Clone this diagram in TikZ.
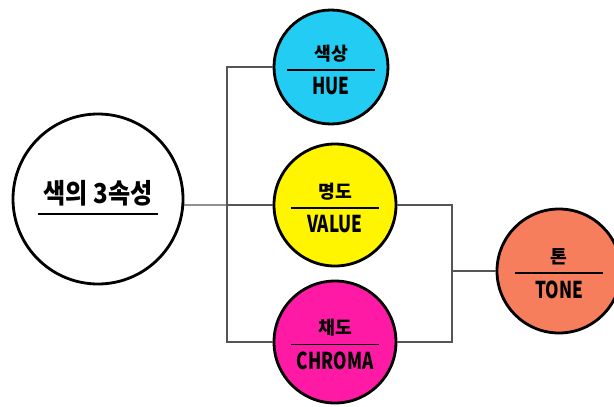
\documentclass[tikz,border=0pt]{standalone}
\usepackage{fontspec}
\setmainfont{Noto Sans CJK KR}

\definecolor{huecol}{HTML}{22CCF2}
\definecolor{valuecol}{HTML}{FFF500}
\definecolor{chromacol}{HTML}{FF1AA6}
\definecolor{tonecol}{HTML}{F77E5C}
\definecolor{wirecol}{HTML}{555555}

\newcommand{\attrlabel}[2]{%
  \begin{tabular}{@{}c@{}}
    \\[-1pt]
    {\fontsize{26}{28}\selectfont\bfseries #1}\\[3pt]
    \rule{126pt}{2.6pt}\\[6pt]
    \scalebox{0.74}[1]{\fontsize{33}{36}\selectfont\bfseries #2}
  \end{tabular}}

\begin{document}
\begin{tikzpicture}[x=0.5mm,y=-0.5mm,
  ball/.style={circle,draw=black,line width=4pt,inner sep=0pt,align=center},
  wire/.style={draw=wirecol,line width=1.6pt}]
	\clip (0,0) rectangle (614,406);

	\node[ball,fill=white,minimum size=85mm] (props) at (98,199)
	  {\begin{tabular}{@{}c@{}}\scalebox{0.88}[1]{\fontsize{39}{44}\selectfont\bfseries 색의 3속성}\\[5pt]\rule{170pt}{3.5pt}\end{tabular}};
	\node[ball,fill=huecol,minimum size=57mm] (hue) at (331,67) {\attrlabel{색상}{HUE}};
	\node[ball,fill=valuecol,minimum size=61mm] (value) at (335,205) {\attrlabel{명도}{VALUE}};
	\node[ball,fill=chromacol,minimum size=61mm] (chroma) at (335,342) {\attrlabel{채도}{CHROMA}};
	\node[ball,fill=tonecol,minimum size=62mm] (tone) at (559,271) {\attrlabel{톤}{TONE}};

	\coordinate (lbus) at (227,205);
	\coordinate (rbus) at (452,271);

	\draw[wire] (props.-4) -- (lbus);
	\draw[wire] (hue.west) -| (lbus) |- (chroma.west);
	\draw[wire] (lbus) -- (value.west);
	\draw[wire] (value.east) -| (rbus) |- (chroma.east);
	\draw[wire] (rbus) -- (tone.west);
\end{tikzpicture}
\end{document}
